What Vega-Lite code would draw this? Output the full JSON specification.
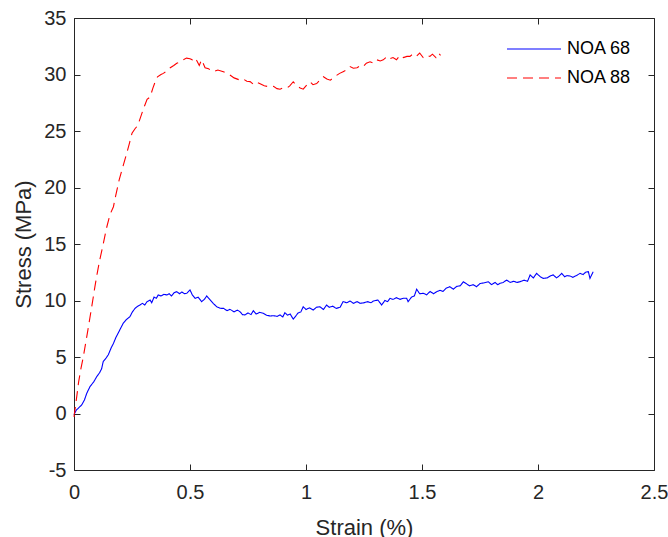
{
  "$schema": "https://vega.github.io/schema/vega-lite/v6.json",
  "width": 580,
  "height": 452,
  "autosize": "none",
  "padding": {"left": 74, "top": 18, "right": 14, "bottom": 67},
  "background": "white",
  "config": {
    "view": {"stroke": "#262626", "strokeWidth": 1, "fill": null},
    "font": "Liberation Sans",
    "axis": {"grid": false, "zindex": 1, "labelFontSize": 20, "titleFontSize": 22, "titleFontWeight": "normal", "labelColor": "#262626", "titleColor": "#262626", "labelFlush": false, "tickOpacity": 1, "tickColor": "#262626", "tickWidth": 1}
  },
  "datasets": {
    "curves": [
      {"s":"NOA 68","strain":0,"stress":-0.1},{"s":"NOA 68","strain":0.01,"stress":0.3},{"s":"NOA 68","strain":0.02,"stress":0.5},{"s":"NOA 68","strain":0.033,"stress":0.75},{"s":"NOA 68","strain":0.045,"stress":1.2},{"s":"NOA 68","strain":0.055,"stress":1.79},{"s":"NOA 68","strain":0.069,"stress":2.38},{"s":"NOA 68","strain":0.085,"stress":2.8},{"s":"NOA 68","strain":0.098,"stress":3.26},{"s":"NOA 68","strain":0.11,"stress":3.6},{"s":"NOA 68","strain":0.119,"stress":3.95},{"s":"NOA 68","strain":0.126,"stress":4.6},{"s":"NOA 68","strain":0.138,"stress":4.9},{"s":"NOA 68","strain":0.148,"stress":5.2},{"s":"NOA 68","strain":0.16,"stress":5.8},{"s":"NOA 68","strain":0.17,"stress":6.2},{"s":"NOA 68","strain":0.18,"stress":6.7},{"s":"NOA 68","strain":0.19,"stress":7.1},{"s":"NOA 68","strain":0.2,"stress":7.5},{"s":"NOA 68","strain":0.212,"stress":7.98},{"s":"NOA 68","strain":0.225,"stress":8.3},{"s":"NOA 68","strain":0.241,"stress":8.57},{"s":"NOA 68","strain":0.252,"stress":9.0},{"s":"NOA 68","strain":0.263,"stress":9.3},{"s":"NOA 68","strain":0.275,"stress":9.5},{"s":"NOA 68","strain":0.284,"stress":9.6},{"s":"NOA 68","strain":0.295,"stress":9.75},{"s":"NOA 68","strain":0.305,"stress":9.6},{"s":"NOA 68","strain":0.315,"stress":9.9},{"s":"NOA 68","strain":0.328,"stress":10.04},{"s":"NOA 68","strain":0.335,"stress":9.8},{"s":"NOA 68","strain":0.345,"stress":10.3},{"s":"NOA 68","strain":0.355,"stress":10.2},{"s":"NOA 68","strain":0.363,"stress":10.49},{"s":"NOA 68","strain":0.375,"stress":10.4},{"s":"NOA 68","strain":0.388,"stress":10.55},{"s":"NOA 68","strain":0.4,"stress":10.49},{"s":"NOA 68","strain":0.41,"stress":10.6},{"s":"NOA 68","strain":0.42,"stress":10.4},{"s":"NOA 68","strain":0.432,"stress":10.7},{"s":"NOA 68","strain":0.443,"stress":10.78},{"s":"NOA 68","strain":0.455,"stress":10.6},{"s":"NOA 68","strain":0.465,"stress":10.75},{"s":"NOA 68","strain":0.476,"stress":10.6},{"s":"NOA 68","strain":0.486,"stress":10.64},{"s":"NOA 68","strain":0.5,"stress":10.93},{"s":"NOA 68","strain":0.51,"stress":10.5},{"s":"NOA 68","strain":0.522,"stress":10.19},{"s":"NOA 68","strain":0.535,"stress":10.3},{"s":"NOA 68","strain":0.55,"stress":9.9},{"s":"NOA 68","strain":0.562,"stress":10.1},{"s":"NOA 68","strain":0.572,"stress":10.4},{"s":"NOA 68","strain":0.585,"stress":10.1},{"s":"NOA 68","strain":0.6,"stress":9.75},{"s":"NOA 68","strain":0.615,"stress":9.45},{"s":"NOA 68","strain":0.63,"stress":9.31},{"s":"NOA 68","strain":0.645,"stress":9.3},{"s":"NOA 68","strain":0.66,"stress":9.1},{"s":"NOA 68","strain":0.672,"stress":9.22},{"s":"NOA 68","strain":0.69,"stress":9.0},{"s":"NOA 68","strain":0.705,"stress":9.15},{"s":"NOA 68","strain":0.716,"stress":9.0},{"s":"NOA 68","strain":0.726,"stress":8.75},{"s":"NOA 68","strain":0.737,"stress":8.72},{"s":"NOA 68","strain":0.75,"stress":8.9},{"s":"NOA 68","strain":0.763,"stress":8.75},{"s":"NOA 68","strain":0.773,"stress":9.1},{"s":"NOA 68","strain":0.785,"stress":8.8},{"s":"NOA 68","strain":0.8,"stress":8.95},{"s":"NOA 68","strain":0.816,"stress":8.87},{"s":"NOA 68","strain":0.83,"stress":8.7},{"s":"NOA 68","strain":0.845,"stress":8.63},{"s":"NOA 68","strain":0.86,"stress":8.65},{"s":"NOA 68","strain":0.875,"stress":8.6},{"s":"NOA 68","strain":0.888,"stress":8.72},{"s":"NOA 68","strain":0.9,"stress":8.55},{"s":"NOA 68","strain":0.909,"stress":8.92},{"s":"NOA 68","strain":0.92,"stress":8.7},{"s":"NOA 68","strain":0.932,"stress":8.8},{"s":"NOA 68","strain":0.945,"stress":8.35},{"s":"NOA 68","strain":0.955,"stress":8.6},{"s":"NOA 68","strain":0.966,"stress":8.9},{"s":"NOA 68","strain":0.978,"stress":9.0},{"s":"NOA 68","strain":0.988,"stress":9.45},{"s":"NOA 68","strain":1.0,"stress":9.2},{"s":"NOA 68","strain":1.015,"stress":9.35},{"s":"NOA 68","strain":1.031,"stress":9.16},{"s":"NOA 68","strain":1.045,"stress":9.4},{"s":"NOA 68","strain":1.06,"stress":9.45},{"s":"NOA 68","strain":1.075,"stress":9.2},{"s":"NOA 68","strain":1.089,"stress":9.6},{"s":"NOA 68","strain":1.1,"stress":9.4},{"s":"NOA 68","strain":1.115,"stress":9.5},{"s":"NOA 68","strain":1.13,"stress":9.3},{"s":"NOA 68","strain":1.147,"stress":9.4},{"s":"NOA 68","strain":1.16,"stress":9.9},{"s":"NOA 68","strain":1.175,"stress":9.8},{"s":"NOA 68","strain":1.19,"stress":9.95},{"s":"NOA 68","strain":1.205,"stress":9.75},{"s":"NOA 68","strain":1.22,"stress":9.9},{"s":"NOA 68","strain":1.233,"stress":9.75},{"s":"NOA 68","strain":1.25,"stress":9.8},{"s":"NOA 68","strain":1.265,"stress":9.9},{"s":"NOA 68","strain":1.28,"stress":9.8},{"s":"NOA 68","strain":1.29,"stress":9.95},{"s":"NOA 68","strain":1.31,"stress":10.04},{"s":"NOA 68","strain":1.326,"stress":9.6},{"s":"NOA 68","strain":1.34,"stress":10.0},{"s":"NOA 68","strain":1.352,"stress":9.9},{"s":"NOA 68","strain":1.362,"stress":10.19},{"s":"NOA 68","strain":1.375,"stress":10.1},{"s":"NOA 68","strain":1.39,"stress":10.25},{"s":"NOA 68","strain":1.405,"stress":10.1},{"s":"NOA 68","strain":1.42,"stress":10.2},{"s":"NOA 68","strain":1.434,"stress":10.19},{"s":"NOA 68","strain":1.44,"stress":9.9},{"s":"NOA 68","strain":1.455,"stress":10.3},{"s":"NOA 68","strain":1.467,"stress":10.4},{"s":"NOA 68","strain":1.477,"stress":11.0},{"s":"NOA 68","strain":1.49,"stress":10.6},{"s":"NOA 68","strain":1.506,"stress":10.64},{"s":"NOA 68","strain":1.52,"stress":10.5},{"s":"NOA 68","strain":1.535,"stress":10.8},{"s":"NOA 68","strain":1.55,"stress":10.6},{"s":"NOA 68","strain":1.563,"stress":10.78},{"s":"NOA 68","strain":1.578,"stress":10.9},{"s":"NOA 68","strain":1.59,"stress":10.8},{"s":"NOA 68","strain":1.605,"stress":11.1},{"s":"NOA 68","strain":1.62,"stress":11.22},{"s":"NOA 68","strain":1.635,"stress":11.0},{"s":"NOA 68","strain":1.65,"stress":11.25},{"s":"NOA 68","strain":1.665,"stress":11.3},{"s":"NOA 68","strain":1.678,"stress":11.66},{"s":"NOA 68","strain":1.69,"stress":11.5},{"s":"NOA 68","strain":1.705,"stress":11.3},{"s":"NOA 68","strain":1.72,"stress":11.4},{"s":"NOA 68","strain":1.735,"stress":11.22},{"s":"NOA 68","strain":1.75,"stress":11.5},{"s":"NOA 68","strain":1.765,"stress":11.55},{"s":"NOA 68","strain":1.786,"stress":11.66},{"s":"NOA 68","strain":1.8,"stress":11.4},{"s":"NOA 68","strain":1.815,"stress":11.6},{"s":"NOA 68","strain":1.826,"stress":11.4},{"s":"NOA 68","strain":1.836,"stress":11.52},{"s":"NOA 68","strain":1.85,"stress":11.6},{"s":"NOA 68","strain":1.865,"stress":11.81},{"s":"NOA 68","strain":1.88,"stress":11.6},{"s":"NOA 68","strain":1.895,"stress":11.7},{"s":"NOA 68","strain":1.91,"stress":11.6},{"s":"NOA 68","strain":1.922,"stress":11.66},{"s":"NOA 68","strain":1.94,"stress":11.8},{"s":"NOA 68","strain":1.955,"stress":11.7},{"s":"NOA 68","strain":1.966,"stress":12.26},{"s":"NOA 68","strain":1.98,"stress":12.0},{"s":"NOA 68","strain":1.994,"stress":12.4},{"s":"NOA 68","strain":2.01,"stress":12.1},{"s":"NOA 68","strain":2.023,"stress":11.96},{"s":"NOA 68","strain":2.04,"stress":12.0},{"s":"NOA 68","strain":2.055,"stress":12.2},{"s":"NOA 68","strain":2.066,"stress":12.26},{"s":"NOA 68","strain":2.08,"stress":12.0},{"s":"NOA 68","strain":2.09,"stress":12.15},{"s":"NOA 68","strain":2.102,"stress":12.4},{"s":"NOA 68","strain":2.115,"stress":12.1},{"s":"NOA 68","strain":2.125,"stress":12.2},{"s":"NOA 68","strain":2.138,"stress":12.17},{"s":"NOA 68","strain":2.15,"stress":12.05},{"s":"NOA 68","strain":2.165,"stress":12.2},{"s":"NOA 68","strain":2.181,"stress":12.4},{"s":"NOA 68","strain":2.195,"stress":12.3},{"s":"NOA 68","strain":2.205,"stress":12.5},{"s":"NOA 68","strain":2.217,"stress":12.55},{"s":"NOA 68","strain":2.224,"stress":11.96},{"s":"NOA 68","strain":2.238,"stress":12.55},
      {"s":"NOA 88","strain":0,"stress":-0.3},{"s":"NOA 88","strain":0.01,"stress":1.2},{"s":"NOA 88","strain":0.02,"stress":2.8},{"s":"NOA 88","strain":0.03,"stress":4.0},{"s":"NOA 88","strain":0.04,"stress":5.0},{"s":"NOA 88","strain":0.05,"stress":6.2},{"s":"NOA 88","strain":0.06,"stress":7.4},{"s":"NOA 88","strain":0.076,"stress":9.4},{"s":"NOA 88","strain":0.09,"stress":11.2},{"s":"NOA 88","strain":0.1,"stress":12.4},{"s":"NOA 88","strain":0.11,"stress":13.5},{"s":"NOA 88","strain":0.126,"stress":15.0},{"s":"NOA 88","strain":0.14,"stress":16.4},{"s":"NOA 88","strain":0.155,"stress":17.6},{"s":"NOA 88","strain":0.17,"stress":18.3},{"s":"NOA 88","strain":0.18,"stress":19.3},{"s":"NOA 88","strain":0.195,"stress":20.7},{"s":"NOA 88","strain":0.21,"stress":21.8},{"s":"NOA 88","strain":0.227,"stress":23.0},{"s":"NOA 88","strain":0.24,"stress":24.0},{"s":"NOA 88","strain":0.25,"stress":24.8},{"s":"NOA 88","strain":0.263,"stress":25.2},{"s":"NOA 88","strain":0.275,"stress":25.5},{"s":"NOA 88","strain":0.29,"stress":26.4},{"s":"NOA 88","strain":0.3,"stress":27.0},{"s":"NOA 88","strain":0.315,"stress":27.8},{"s":"NOA 88","strain":0.328,"stress":28.0},{"s":"NOA 88","strain":0.34,"stress":28.8},{"s":"NOA 88","strain":0.349,"stress":29.3},{"s":"NOA 88","strain":0.36,"stress":29.8},{"s":"NOA 88","strain":0.375,"stress":30.0},{"s":"NOA 88","strain":0.385,"stress":30.1},{"s":"NOA 88","strain":0.4,"stress":30.3},{"s":"NOA 88","strain":0.415,"stress":30.6},{"s":"NOA 88","strain":0.43,"stress":30.8},{"s":"NOA 88","strain":0.443,"stress":31.0},{"s":"NOA 88","strain":0.455,"stress":31.1},{"s":"NOA 88","strain":0.47,"stress":31.3},{"s":"NOA 88","strain":0.485,"stress":31.45},{"s":"NOA 88","strain":0.5,"stress":31.4},{"s":"NOA 88","strain":0.51,"stress":31.3},{"s":"NOA 88","strain":0.52,"stress":31.5},{"s":"NOA 88","strain":0.53,"stress":31.2},{"s":"NOA 88","strain":0.54,"stress":30.8},{"s":"NOA 88","strain":0.55,"stress":31.3},{"s":"NOA 88","strain":0.565,"stress":30.6},{"s":"NOA 88","strain":0.58,"stress":30.5},{"s":"NOA 88","strain":0.6,"stress":30.25},{"s":"NOA 88","strain":0.62,"stress":30.4},{"s":"NOA 88","strain":0.644,"stress":30.25},{"s":"NOA 88","strain":0.66,"stress":30.1},{"s":"NOA 88","strain":0.672,"stress":29.96},{"s":"NOA 88","strain":0.69,"stress":29.7},{"s":"NOA 88","strain":0.716,"stress":29.5},{"s":"NOA 88","strain":0.73,"stress":29.6},{"s":"NOA 88","strain":0.745,"stress":29.4},{"s":"NOA 88","strain":0.759,"stress":29.37},{"s":"NOA 88","strain":0.775,"stress":29.1},{"s":"NOA 88","strain":0.79,"stress":29.3},{"s":"NOA 88","strain":0.8,"stress":29.2},{"s":"NOA 88","strain":0.82,"stress":29.0},{"s":"NOA 88","strain":0.845,"stress":28.9},{"s":"NOA 88","strain":0.86,"stress":28.95},{"s":"NOA 88","strain":0.875,"stress":28.75},{"s":"NOA 88","strain":0.888,"stress":28.7},{"s":"NOA 88","strain":0.9,"stress":28.8},{"s":"NOA 88","strain":0.917,"stress":28.78},{"s":"NOA 88","strain":0.93,"stress":29.0},{"s":"NOA 88","strain":0.945,"stress":29.36},{"s":"NOA 88","strain":0.96,"stress":29.0},{"s":"NOA 88","strain":0.975,"stress":28.8},{"s":"NOA 88","strain":0.988,"stress":28.7},{"s":"NOA 88","strain":1.0,"stress":29.0},{"s":"NOA 88","strain":1.017,"stress":29.36},{"s":"NOA 88","strain":1.03,"stress":29.1},{"s":"NOA 88","strain":1.046,"stress":29.2},{"s":"NOA 88","strain":1.06,"stress":29.5},{"s":"NOA 88","strain":1.075,"stress":29.8},{"s":"NOA 88","strain":1.09,"stress":29.6},{"s":"NOA 88","strain":1.105,"stress":29.5},{"s":"NOA 88","strain":1.117,"stress":29.7},{"s":"NOA 88","strain":1.13,"stress":29.9},{"s":"NOA 88","strain":1.145,"stress":30.1},{"s":"NOA 88","strain":1.16,"stress":30.25},{"s":"NOA 88","strain":1.175,"stress":30.4},{"s":"NOA 88","strain":1.19,"stress":30.7},{"s":"NOA 88","strain":1.204,"stress":30.55},{"s":"NOA 88","strain":1.22,"stress":30.6},{"s":"NOA 88","strain":1.235,"stress":30.8},{"s":"NOA 88","strain":1.247,"stress":30.7},{"s":"NOA 88","strain":1.26,"stress":31.0},{"s":"NOA 88","strain":1.276,"stress":31.13},{"s":"NOA 88","strain":1.29,"stress":31.0},{"s":"NOA 88","strain":1.305,"stress":31.3},{"s":"NOA 88","strain":1.32,"stress":31.2},{"s":"NOA 88","strain":1.333,"stress":31.3},{"s":"NOA 88","strain":1.35,"stress":31.6},{"s":"NOA 88","strain":1.36,"stress":31.4},{"s":"NOA 88","strain":1.375,"stress":31.5},{"s":"NOA 88","strain":1.39,"stress":31.3},{"s":"NOA 88","strain":1.405,"stress":31.7},{"s":"NOA 88","strain":1.42,"stress":31.5},{"s":"NOA 88","strain":1.435,"stress":31.6},{"s":"NOA 88","strain":1.448,"stress":31.6},{"s":"NOA 88","strain":1.46,"stress":31.8},{"s":"NOA 88","strain":1.475,"stress":31.6},{"s":"NOA 88","strain":1.49,"stress":31.9},{"s":"NOA 88","strain":1.505,"stress":31.5},{"s":"NOA 88","strain":1.52,"stress":31.7},{"s":"NOA 88","strain":1.534,"stress":31.6},{"s":"NOA 88","strain":1.545,"stress":31.8},{"s":"NOA 88","strain":1.56,"stress":31.5},{"s":"NOA 88","strain":1.57,"stress":31.9},{"s":"NOA 88","strain":1.58,"stress":31.7}
    ]
  },
  "data": {"name": "curves"},
  "layer": [
    {
      "mark": {"type": "line", "strokeWidth": 1.1},
      "encoding": {
        "x": {"field": "strain", "type": "quantitative", "scale": {"domain": [0, 2.5], "nice": false},
              "axis": {"orient": "bottom", "title": "Strain (%)", "values": [0, 0.5, 1, 1.5, 2, 2.5], "labelExpr": "'' + datum.value", "domain": false, "offset": -6, "ticks": true, "tickSize": 6, "tickOpacity": 1, "tickColor": "#262626", "labelPadding": 12, "titlePadding": 15, "zindex": 2}},
        "y": {"field": "stress", "type": "quantitative", "scale": {"domain": [-5, 35], "nice": false, "zero": false},
              "axis": {"orient": "left", "title": "Stress (MPa)", "values": [-5, 0, 5, 10, 15, 20, 25, 30, 35], "labelExpr": "'' + datum.value", "domain": false, "offset": -6, "ticks": true, "tickSize": 6, "tickOpacity": 1, "tickColor": "#262626", "labelPadding": 8, "titlePadding": 8, "zindex": 2}},
        "color": {"field": "s", "type": "nominal", "scale": {"domain": ["NOA 68", "NOA 88"], "range": ["#0000ff", "#ff0000"]},
                  "legend": {"title": null, "orient": "none", "legendX": 450, "legendY": 21, "padding": 0, "symbolType": "M-3,0H3", "symbolSize": 324, "symbolStrokeWidth": 1.1, "labelFontSize": 18, "labelColor": "#000000", "labelOffset": 23, "rowPadding": 10}},
        "strokeDash": {"field": "s", "type": "nominal", "scale": {"domain": ["NOA 68", "NOA 88"], "range": [[1, 0], [10, 6]]},
                  "legend": {"title": null, "orient": "none", "legendX": 450, "legendY": 21, "padding": 0, "symbolType": "M-3,0H3", "symbolSize": 324, "symbolStrokeWidth": 1.1, "labelFontSize": 18, "labelColor": "#000000", "labelOffset": 23, "rowPadding": 10}}
      }
    },
    {
      "mark": {"type": "point", "opacity": 0},
      "encoding": {
        "x": {"field": "strain", "type": "quantitative", "scale": {"domain": [0, 2.5], "nice": false},
              "axis": {"orient": "top", "title": null, "labels": false, "values": [0, 0.5, 1, 1.5, 2, 2.5], "domain": false, "offset": -6, "ticks": true, "tickSize": 6, "tickOpacity": 1, "tickColor": "#262626", "zindex": 2}},
        "y": {"field": "stress", "type": "quantitative", "scale": {"domain": [-5, 35], "nice": false, "zero": false},
              "axis": {"orient": "right", "title": null, "labels": false, "values": [-5, 0, 5, 10, 15, 20, 25, 30, 35], "domain": false, "offset": -6, "ticks": true, "tickSize": 6, "tickOpacity": 1, "tickColor": "#262626", "zindex": 2}}
      }
    }
  ],
  "resolve": {"scale": {"x": "independent", "y": "independent"}, "axis": {"x": "independent", "y": "independent"}}
}
